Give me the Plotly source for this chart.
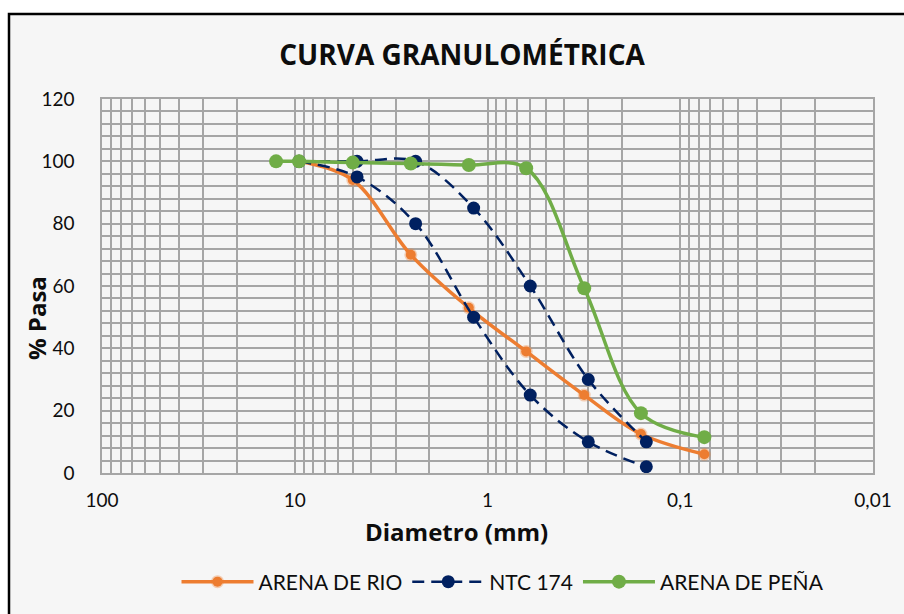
import plotly.graph_objects as go

# Sieve openings (mm) and percent passing
sizes_sand = [12.5, 9.5, 5.0, 2.5, 1.25, 0.63, 0.315, 0.16, 0.075]
rio_pass = [None, 100, 94, 70, 53, 39, 25, 12.5, 6]
pena_pass = [100, 100, 99.6, 99.3, 98.8, 97.8, 59.3, 19.2, 11.5]

# NTC 174 grading band: lower limit, then upper limit (gap between them)
ntc_sizes_lower = [9.5, 4.75, 2.36, 1.18, 0.6, 0.3, 0.15]
ntc_lower = [100, 95, 80, 50, 25, 10, 2]
ntc_sizes_upper = [9.5, 4.75, 2.36, 1.18, 0.6, 0.3, 0.15]
ntc_upper = [100, 100, 100, 85, 60, 30, 10]

x_tick_labels = {100: "100", 10: "10", 1: "1", 0.1: "0,1", 0.01: "0,01"}
y_ticks = [0, 20, 40, 60, 80, 100, 120]

ORANGE = "#ED7D31"
NAVY = "#002060"
GREEN = "#70AD47"
GRID = "#A6A6A6"
TEXT = "#0d0d0d"

# plot-area geometry in pixels, used to place frame, titles and legend
W, H = 904, 614
L, R, T, B = 102, 31, 99, 141
pw, ph = W - L - R, H - T - B


def px_to_paper(x, y):
    return (x - L) / pw, (H - B - y) / ph


fig = go.Figure()

rio_x = [s for s, v in zip(sizes_sand, rio_pass) if v is not None]
rio_y = [v for v in rio_pass if v is not None]
fig.add_trace(go.Scatter(
    x=rio_x, y=rio_y, name="ARENA DE RIO", mode="lines+markers",
    line=dict(color=ORANGE, width=3.5, shape="spline", smoothing=1),
    marker=dict(color=ORANGE, size=10, line=dict(color="rgba(237,125,49,0.35)", width=3)),
))

fig.add_trace(go.Scatter(
    x=ntc_sizes_lower + [None] + ntc_sizes_upper,
    y=ntc_lower + [None] + ntc_upper,
    name="NTC 174", mode="lines+markers", connectgaps=False,
    line=dict(color=NAVY, width=2.5, dash="12px,7px", shape="spline", smoothing=1),
    marker=dict(color=NAVY, size=13),
))

fig.add_trace(go.Scatter(
    x=sizes_sand, y=pena_pass, name="ARENA DE PEÑA", mode="lines+markers",
    line=dict(color=GREEN, width=3.5, shape="spline", smoothing=1),
    marker=dict(color=GREEN, size=14),
))

# log grid: every digit of each decade, labels only at powers of ten
x_tickvals, x_ticktext = [], []
for exp in [-2, -1, 0, 1]:
    for d in range(1, 10):
        v = round(d * 10 ** exp, 6)
        x_tickvals.append(v)
        x_ticktext.append(x_tick_labels.get(v, ""))
x_tickvals.append(100)
x_ticktext.append("100")

fx0, fy0 = px_to_paper(9, 14)
fx1, fy1 = px_to_paper(W + 10, H + 10)
xt_x, xt_y = px_to_paper(456, 531)
yt_x, yt_y = px_to_paper(36, 318)
lg_x, lg_y = px_to_paper(503, 582)

fig.update_layout(
    width=W, height=H,
    margin=dict(l=L, r=R, t=T, b=B),
    paper_bgcolor="white",
    plot_bgcolor="rgba(0,0,0,0)",
    title=dict(text="<b>CURVA GRANULOMÉTRICA</b>", x=(462 - L) / pw, xref="paper",
               xanchor="center", y=1 - 55 / H, yanchor="middle",
               font=dict(family="Open Sans", size=28, color=TEXT)),
    font=dict(family="Lato", color=TEXT),
    xaxis=dict(
        type="log", range=[2, -2],
        tickvals=x_tickvals, ticktext=x_ticktext,
        tickfont=dict(size=19, family="Lato", color=TEXT),
        ticklabelstandoff=9,
        showgrid=True, gridcolor=GRID, gridwidth=1.5,
        showline=True, linecolor=GRID, linewidth=1.5, mirror=True,
        ticks="", zeroline=False,
    ),
    yaxis=dict(
        range=[0, 120], tickvals=y_ticks,
        tickfont=dict(size=19, family="Lato", color=TEXT),
        ticklabelstandoff=22,
        showgrid=True, gridcolor=GRID, gridwidth=1.5,
        minor=dict(dtick=4, showgrid=True, gridcolor=GRID, gridwidth=1.5),
        showline=True, linecolor=GRID, linewidth=1.5, mirror=True,
        ticks="", zeroline=False,
    ),
    annotations=[
        dict(text="<b>Diametro (mm)</b>", xref="paper", yref="paper", x=xt_x, y=xt_y,
             xanchor="center", yanchor="middle", showarrow=False,
             font=dict(size=24, family="Open Sans", color=TEXT)),
        dict(text="<b>% Pasa</b>", xref="paper", yref="paper", x=yt_x, y=yt_y,
             xanchor="center", yanchor="middle", showarrow=False, textangle=-90,
             font=dict(size=24, family="Open Sans", color=TEXT)),
    ],
    legend=dict(orientation="h", x=lg_x, xanchor="center",
                y=lg_y, yanchor="middle",
                font=dict(size=21, family="Lato", color=TEXT), bgcolor="rgba(0,0,0,0)",
                itemwidth=72),
    shapes=[dict(type="rect", xref="paper", yref="paper", layer="below",
                 x0=fx0, y0=fy0, x1=fx1, y1=fy1,
                 line=dict(color="black", width=2.5), fillcolor="#F6F6F6")],
)

fig.write_html("out.html")
